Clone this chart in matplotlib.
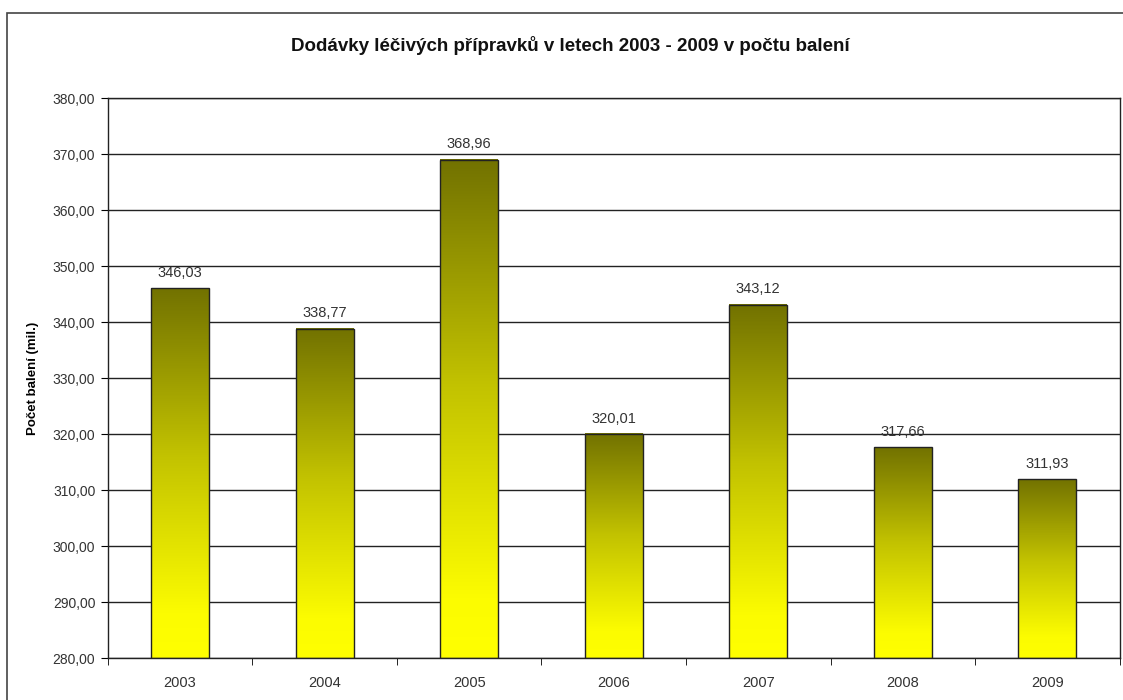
import numpy as np
import matplotlib
matplotlib.use('Agg')
import matplotlib.pyplot as plt
from matplotlib.colors import LinearSegmentedColormap
from matplotlib.patches import Rectangle

# data
years = ['2003', '2004', '2005', '2006', '2007', '2008', '2009']
values = [346.03, 338.77, 368.96, 320.01, 343.12, 317.66, 311.93]
y_ticks = [280, 290, 300, 310, 320, 330, 340, 350, 360, 370, 380]

title = 'Dodávky léčivých přípravků v letech 2003 - 2009 v počtu balení'
y_label = 'Počet balení (mil.)'


def cz(v):
    return f'{v:.2f}'.replace('.', ',')


plt.rcParams['font.family'] = ['Liberation Sans', 'DejaVu Sans']

fig = plt.figure(figsize=(11.23, 7), dpi=100)
ax = fig.add_axes([0.096, 0.06, 0.901, 0.8])

# gradient: bright yellow at bottom, olive at top
cmap = LinearSegmentedColormap.from_list(
    'olive', [(0.0, '#ffff00'), (0.12, '#fcfc00'), (0.55, '#c2c200'), (1.0, '#727200')])
grad = np.linspace(0, 1, 256).reshape(-1, 1)

x = np.arange(len(years))
width = 0.4
ymin = y_ticks[0]
for xi, v in zip(x, values):
    ax.imshow(grad, cmap=cmap, origin='lower', aspect='auto',
              extent=[xi - width / 2, xi + width / 2, ymin, v], zorder=2)
    ax.add_patch(Rectangle((xi - width / 2, ymin), width, v - ymin,
                           facecolor='none', edgecolor='#222222', lw=1.0, zorder=3))
    ax.text(xi, v + 1.5, cz(v), ha='center', va='bottom', fontsize=10.5, color='#333333')

ax.set_xlim(-0.5, len(years) - 0.5)
ax.set_ylim(y_ticks[0], y_ticks[-1])
ax.set_yticks(y_ticks)
ax.set_yticklabels([cz(t) for t in y_ticks], fontsize=10, color='#333333')
ax.set_xticks(x)
ax.set_xticklabels(years, fontsize=10.5, color='#333333')
ax.set_xticks(np.arange(-0.5, len(years)), minor=True)
ax.tick_params(axis='x', which='major', length=0, pad=13)
ax.tick_params(axis='x', which='minor', length=5, direction='out')
ax.tick_params(axis='y', length=5, direction='out', pad=4)

ax.yaxis.grid(True, color='#222222', lw=1.0, zorder=1)
ax.set_axisbelow(True)
for s in ax.spines.values():
    s.set_color('#222222')
    s.set_linewidth(1.0)

ax.set_ylabel(y_label, fontsize=9.5, fontweight='bold', labelpad=10)
fig.text(0.508, 0.935, title, ha='center', va='center', fontsize=13.5, fontweight='bold',
         color='#111111')

# outer frame of the chart area
fig.patches.append(Rectangle((0.006, -0.1), 1.2, 1.081, transform=fig.transFigure,
                             facecolor='none', edgecolor='#444444', lw=1.2))

fig.savefig('out.png', dpi=100)
